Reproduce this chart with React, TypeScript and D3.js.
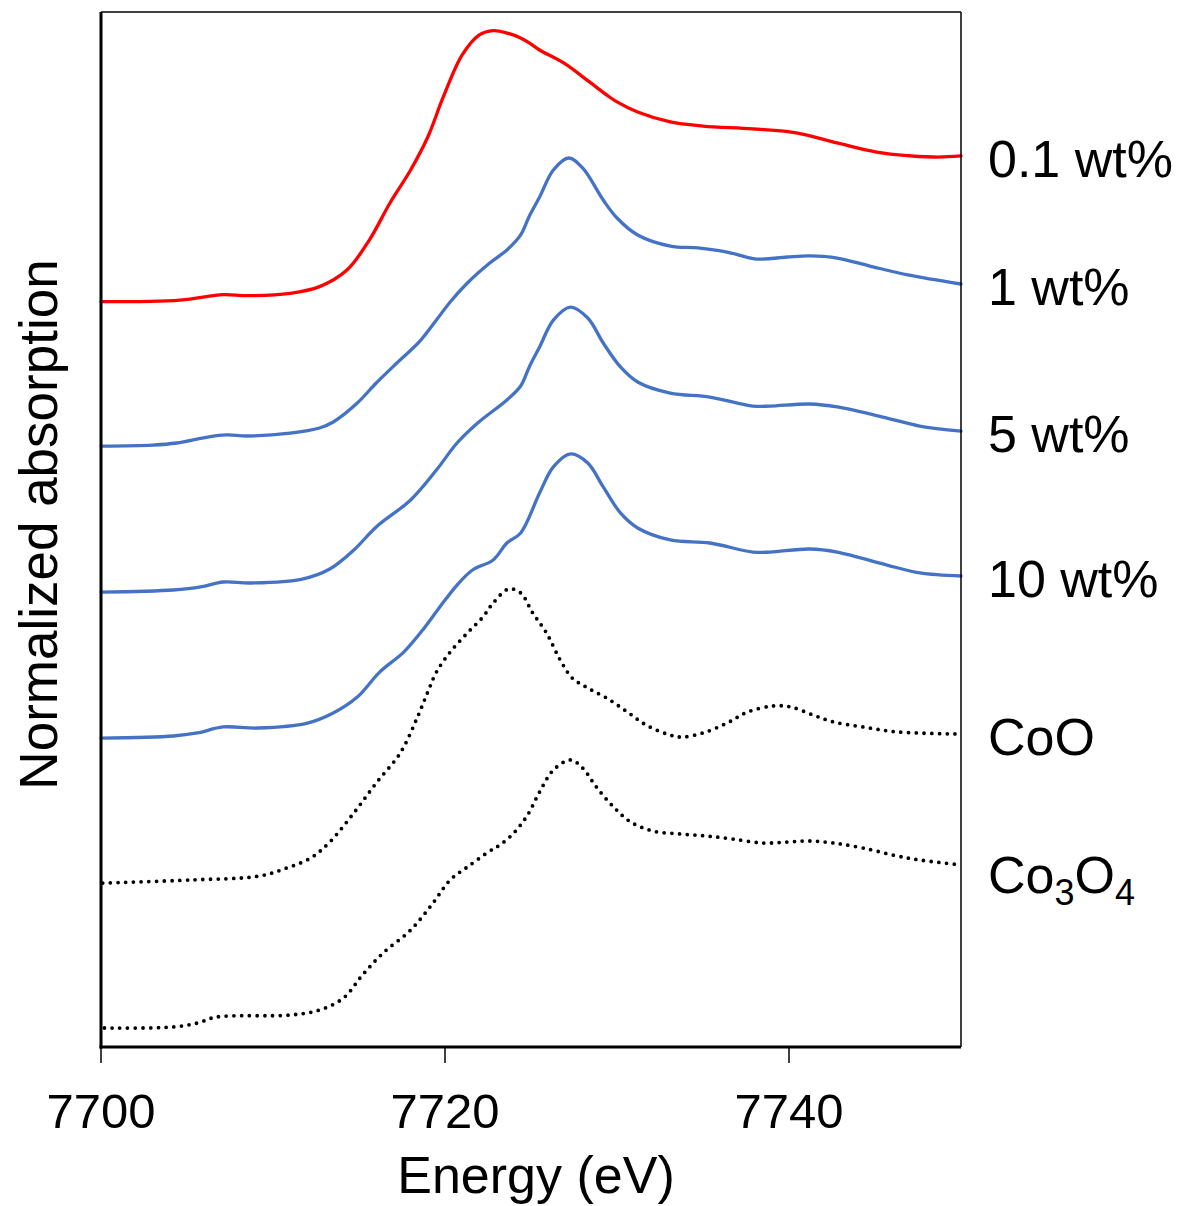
import React from "react";
import * as d3 from "d3";

// Energy (eV) and normalized absorption (each series relative to its own baseline)
const redE = [7700, 7704.6, 7707.1, 7708.5, 7711.0, 7712.7, 7714.3, 7715.6, 7716.8, 7718.0, 7719.0, 7719.9, 7721.0, 7722.0, 7722.8, 7723.6, 7724.4, 7724.9, 7725.5, 7726.9, 7728.4, 7729.4, 7730.0, 7731.2, 7733.1, 7735.0, 7737.9, 7740.5, 7742.8, 7745.1, 7748.4, 7750];
const redV = [0.105, 0.116, 0.153, 0.146, 0.162, 0.208, 0.322, 0.527, 0.781, 1.007, 1.233, 1.507, 1.795, 1.932, 1.961, 1.945, 1.911, 1.877, 1.829, 1.74, 1.61, 1.521, 1.473, 1.404, 1.336, 1.308, 1.288, 1.26, 1.192, 1.13, 1.096, 1.103];

const w1E = [7700, 7703.0, 7704.4, 7706.2, 7707.3, 7708.5, 7711.0, 7712.7, 7713.5, 7714.9, 7716.0, 7717.2, 7718.5, 7719.5, 7720.3, 7721.3, 7722.6, 7723.6, 7724.4, 7724.9, 7725.5, 7726.3, 7727.2, 7728.0, 7729.2, 7730.0, 7731.2, 7733.1, 7734.7, 7736.4, 7738.1, 7739.9, 7741.2, 7742.8, 7744.7, 7746.9, 7750];
const w1V = [0.116, 0.123, 0.137, 0.178, 0.192, 0.185, 0.205, 0.24, 0.281, 0.411, 0.548, 0.685, 0.829, 0.979, 1.103, 1.233, 1.37, 1.459, 1.562, 1.69, 1.822, 2.007, 2.089, 2.021, 1.801, 1.678, 1.562, 1.486, 1.473, 1.445, 1.397, 1.411, 1.418, 1.404, 1.349, 1.288, 1.226];

const w5E = [7700, 7704.2, 7705.8, 7707.1, 7708.7, 7711.7, 7713.3, 7714.7, 7716.0, 7718.0, 7719.5, 7720.7, 7721.9, 7723.6, 7724.4, 7724.9, 7725.5, 7726.3, 7727.3, 7728.3, 7729.2, 7730.2, 7731.2, 7733.1, 7735.4, 7737.9, 7738.9, 7741.2, 7742.8, 7745.7, 7747.6, 7750];
const w5V = [0.116, 0.13, 0.151, 0.185, 0.178, 0.205, 0.274, 0.404, 0.562, 0.747, 0.952, 1.137, 1.274, 1.432, 1.527, 1.658, 1.795, 1.979, 2.068, 1.993, 1.822, 1.658, 1.555, 1.479, 1.452, 1.39, 1.39, 1.404, 1.384, 1.308, 1.253, 1.219];

const w10E = [7700, 7704.2, 7705.6, 7707.1, 7709.1, 7712.0, 7713.5, 7714.9, 7716.2, 7717.6, 7718.7, 7719.7, 7720.7, 7721.6, 7722.8, 7723.6, 7724.4, 7725.5, 7726.3, 7727.3, 7728.3, 7729.2, 7730.2, 7731.2, 7733.1, 7735.4, 7737.9, 7738.9, 7741.2, 7742.8, 7745.7, 7747.6, 7750];
const w10V = [0.116, 0.13, 0.151, 0.192, 0.185, 0.219, 0.288, 0.397, 0.568, 0.705, 0.856, 1.014, 1.164, 1.267, 1.336, 1.452, 1.521, 1.795, 1.973, 2.062, 2.0, 1.836, 1.658, 1.555, 1.473, 1.452, 1.39, 1.39, 1.411, 1.39, 1.301, 1.247, 1.226];

const cooE = [7700.1, 7705.2, 7709.2, 7710.8, 7712.2, 7713.3, 7714.7, 7716.0, 7717.4, 7718.4, 7719.0, 7719.5, 7720.3, 7721.3, 7722.2, 7722.8, 7723.7, 7724.4, 7725.1, 7725.9, 7726.7, 7727.4, 7728.3, 7729.4, 7730.6, 7731.7, 7732.9, 7733.7, 7735.0, 7736.4, 7737.6, 7739.1, 7740.1, 7741.4, 7742.6, 7744.3, 7746.3, 7750];
const cooV = [0.123, 0.144, 0.171, 0.226, 0.295, 0.404, 0.603, 0.808, 1.014, 1.26, 1.432, 1.568, 1.705, 1.836, 1.945, 2.041, 2.137, 2.11, 1.973, 1.836, 1.651, 1.527, 1.459, 1.39, 1.295, 1.205, 1.144, 1.123, 1.151, 1.219, 1.295, 1.336, 1.329, 1.274, 1.226, 1.192, 1.158, 1.144];

const co3o4E = [7700.2, 7704.2, 7705.6, 7706.7, 7711.0, 7712.7, 7714.1, 7715.2, 7716.4, 7718.0, 7719.3, 7720.3, 7721.3, 7722.6, 7723.2, 7724.0, 7724.8, 7725.5, 7726.3, 7727.3, 7728.0, 7728.8, 7729.8, 7730.8, 7732.1, 7733.7, 7735.2, 7736.7, 7738.5, 7739.9, 7741.2, 7742.6, 7744.3, 7746.3, 7747.6, 7750];
const co3o4V = [0.13, 0.137, 0.164, 0.205, 0.219, 0.253, 0.336, 0.493, 0.644, 0.801, 0.986, 1.144, 1.233, 1.342, 1.384, 1.466, 1.589, 1.747, 1.897, 1.966, 1.911, 1.781, 1.644, 1.541, 1.479, 1.459, 1.445, 1.425, 1.397, 1.404, 1.411, 1.397, 1.363, 1.308, 1.281, 1.247];

const seriesNames = ["0.1 wt%", "1 wt%", "5 wt%", "10 wt%", "CoO", "Co3O4"];
const seriesOffsets = [5, 4, 3, 2, 1, 0];
const xTicks = [7700, 7720, 7740];

const W = 1178;
const H = 1206;
const M = { left: 101, right: 961, top: 12, bottom: 1047 };
const FONT = "'Liberation Sans', Arial, sans-serif";

export default function App() {
  const x = d3.scaleLinear().domain([7700, 7750]).range([M.left, M.right]);
  const y = d3.scaleLinear().domain([0, (M.bottom - M.top) / 146]).range([M.bottom, M.top]);

  const raw = [
    [redE, redV],
    [w1E, w1V],
    [w5E, w5V],
    [w10E, w10V],
    [cooE, cooV],
    [co3o4E, co3o4V],
  ];
  const styles = [
    { stroke: "#FF0000", width: 3.3, dash: null },
    { stroke: "#4472C4", width: 3.3, dash: null },
    { stroke: "#4472C4", width: 3.3, dash: null },
    { stroke: "#4472C4", width: 3.3, dash: null },
    { stroke: "#000000", width: 3.8, dash: "0 7.7" },
    { stroke: "#000000", width: 3.8, dash: "0 7.7" },
  ];

  const line = d3
    .line<[number, number]>()
    .x((d) => x(d[0]))
    .y((d) => y(d[1]))
    .curve(d3.curveCatmullRom.alpha(0.5));

  const series = raw.map(([es, vs], i) =>
    es.map((e, j) => [e, vs[j] + seriesOffsets[i]] as [number, number])
  );

  return (
    <svg
      width={W}
      height={H}
      style={{ position: "absolute", left: 0, top: 0, background: "#fff" }}
      fontFamily={FONT}
    >
      <rect x={0} y={0} width={W} height={H} fill="#fff" />
      {series.map((pts, i) => (
        <path
          key={i}
          d={line(pts) || ""}
          fill="none"
          stroke={styles[i].stroke}
          strokeWidth={styles[i].width}
          strokeLinecap="round"
          strokeLinejoin="round"
          strokeDasharray={styles[i].dash || undefined}
        />
      ))}
      {/* frame */}
      <line x1={M.left} x2={M.right} y1={M.top} y2={M.top} stroke="#000" strokeWidth={1.5} />
      <line x1={M.right} x2={M.right} y1={M.top} y2={M.bottom} stroke="#000" strokeWidth={1.5} />
      <line x1={M.left} x2={M.left} y1={M.top} y2={M.bottom + 1.5} stroke="#000" strokeWidth={3} />
      <line x1={M.left - 1.5} x2={M.right} y1={M.bottom} y2={M.bottom} stroke="#000" strokeWidth={3} />
      {xTicks.map((t) => (
        <g key={t}>
          <line x1={x(t)} x2={x(t)} y1={M.bottom} y2={M.bottom + 16} stroke="#000" strokeWidth={1.5} />
          <text x={x(t)} y={1128} fontSize={49} textAnchor="middle" fill="#000">
            {t}
          </text>
        </g>
      ))}
      <text x={(M.left + M.right) / 2 + 5} y={1193} fontSize={52} textAnchor="middle" fill="#000">
        Energy (eV)
      </text>
      <text
        transform={`translate(57, ${(M.top + M.bottom) / 2 - 5}) rotate(-90)`}
        fontSize={53}
        textAnchor="middle"
        fill="#000"
      >
        Normalized absorption
      </text>
      {series.map((pts, i) => {
        const last = pts[pts.length - 1];
        const yy = y(last[1]) + 21;
        const name = seriesNames[i];
        if (name === "Co3O4") {
          return (
            <text key={name} x={988} y={yy + 7} fontSize={52} fill="#000">
              Co
              <tspan fontSize={36} dy={12}>3</tspan>
              <tspan fontSize={52} dy={-12}>O</tspan>
              <tspan fontSize={36} dy={12}>4</tspan>
            </text>
          );
        }
        return (
          <text key={name} x={988} y={yy} fontSize={52} fill="#000">
            {name}
          </text>
        );
      })}
    </svg>
  );
}
